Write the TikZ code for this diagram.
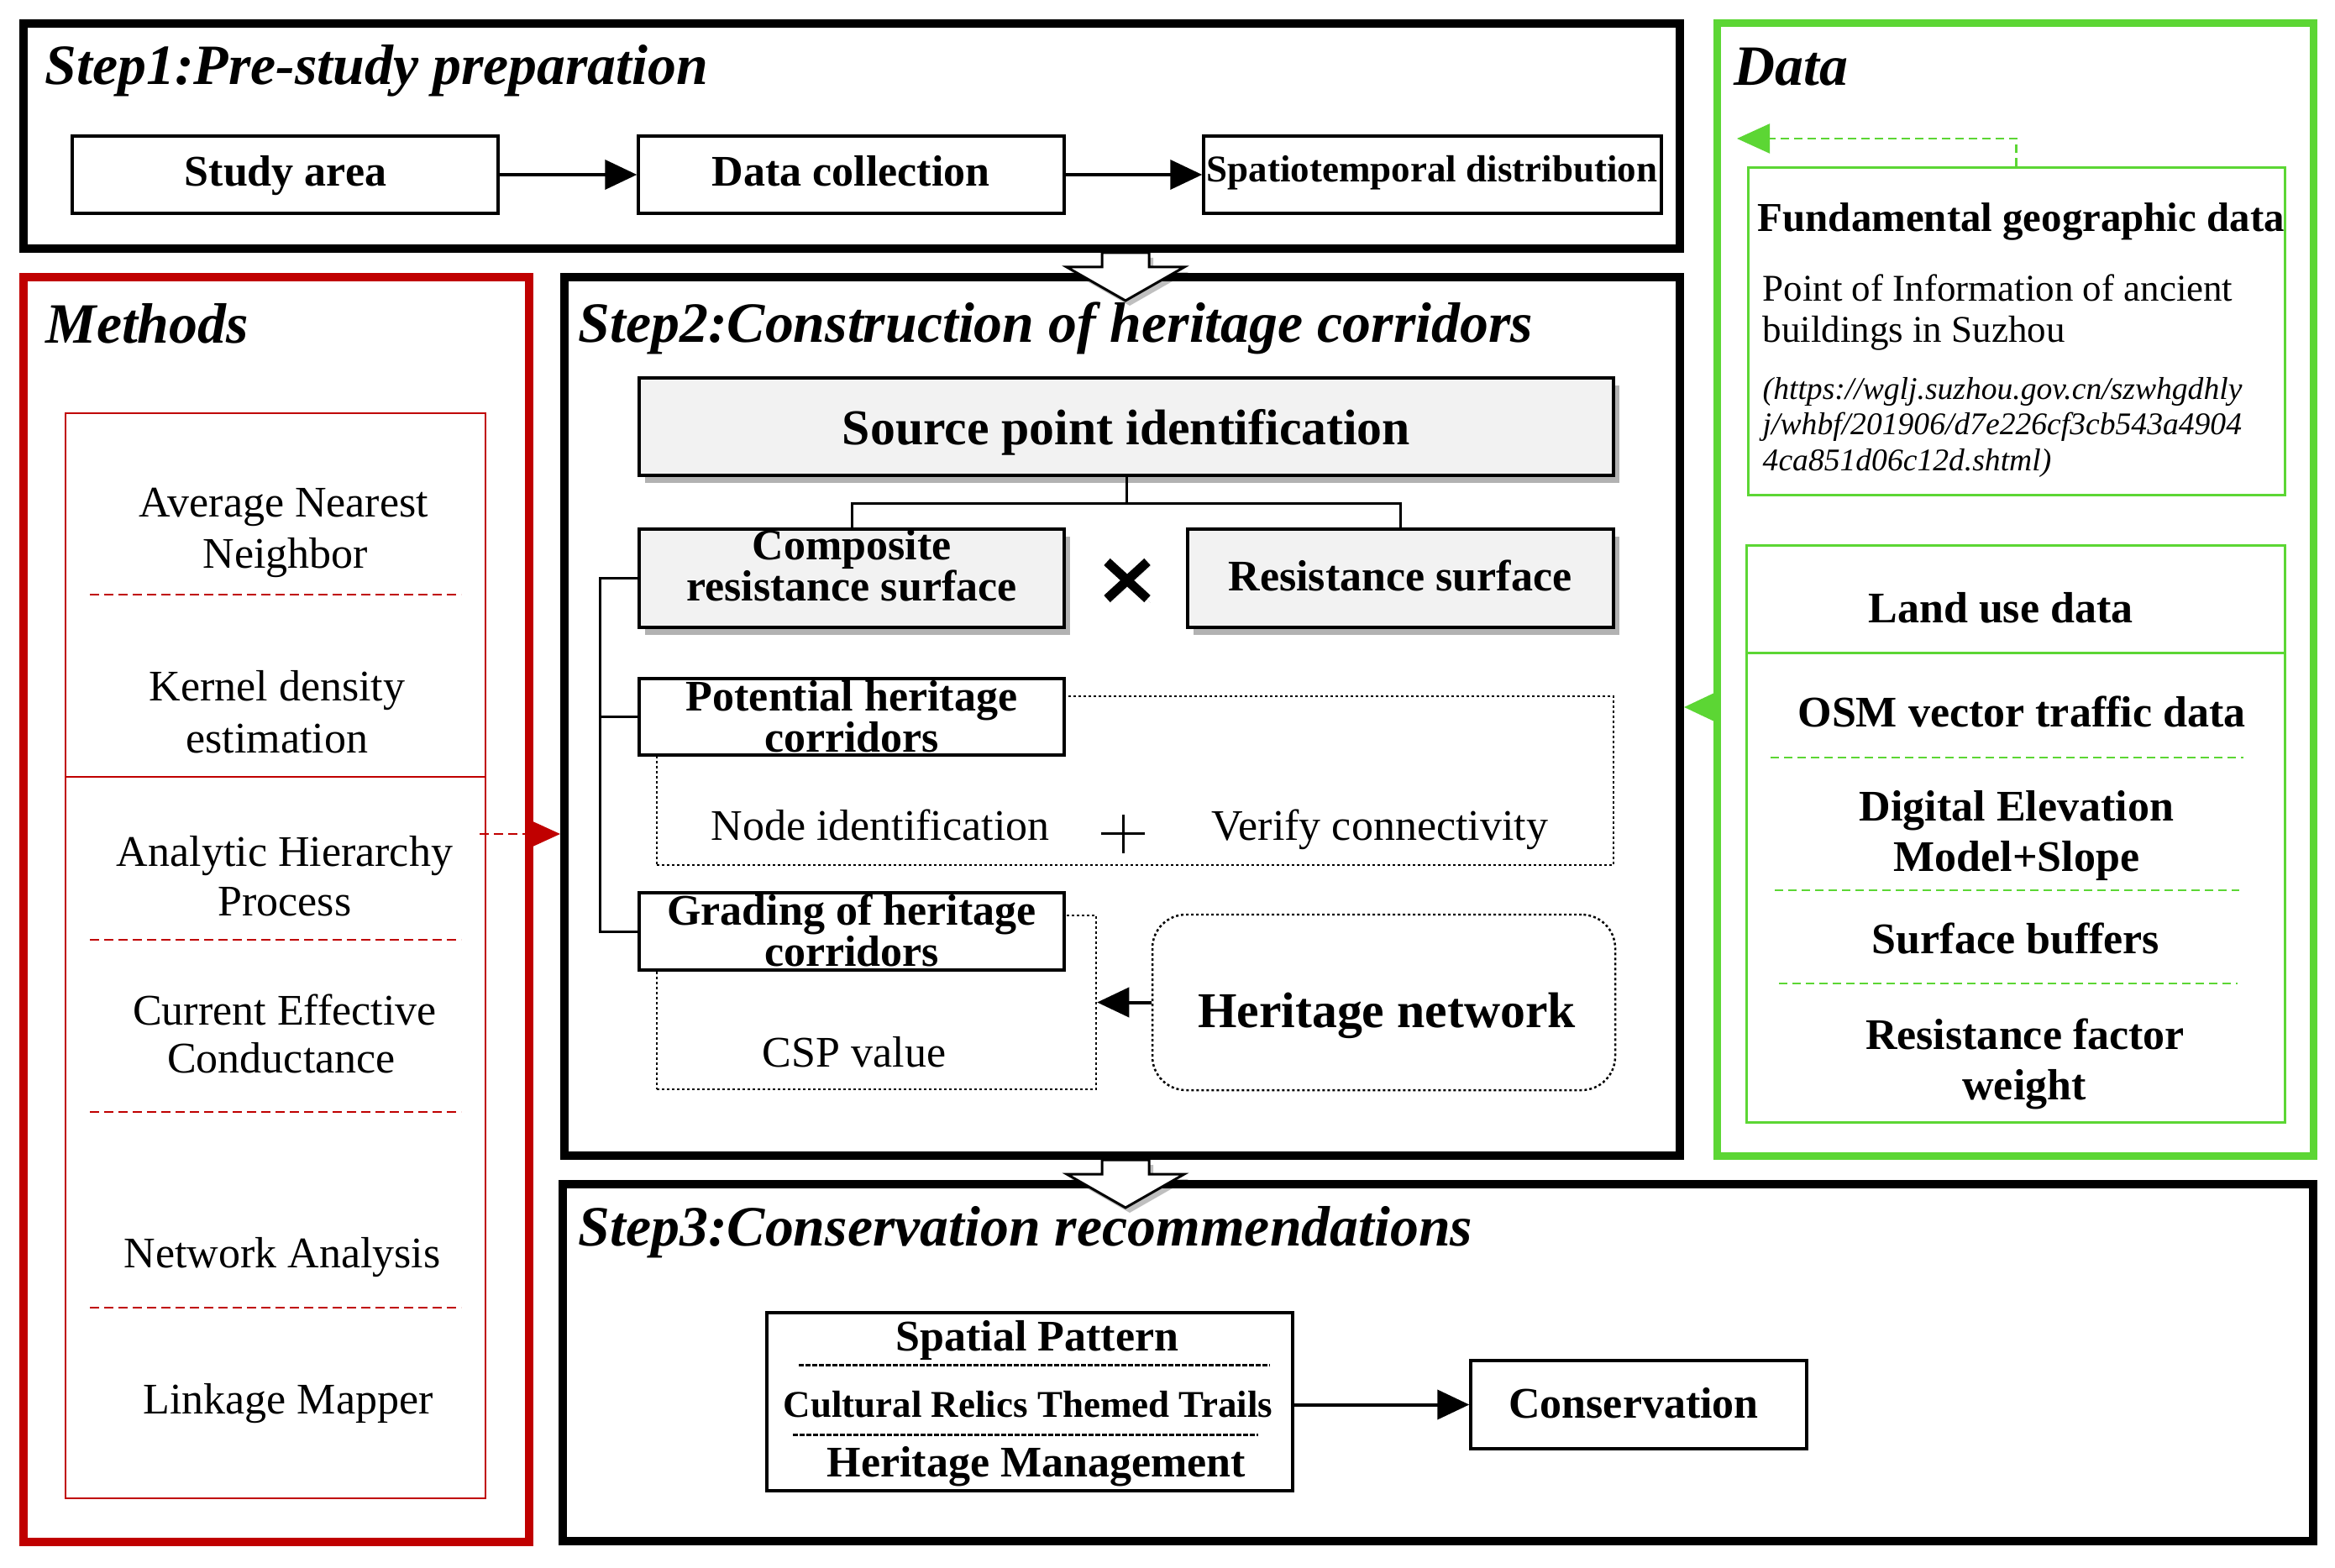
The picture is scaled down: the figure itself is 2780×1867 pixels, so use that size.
\documentclass[tikz,border=0pt]{standalone}
\usepackage{fontspec}
\setmainfont{Liberation Serif}
\usetikzlibrary{arrows.meta,shadows,fit}
\definecolor{mred}{RGB}{192,0,0}
\definecolor{mgreen}{RGB}{92,214,52}
\definecolor{boxgray}{RGB}{242,242,242}
\newcommand{\fsbody}{\fontsize{14.8}{17}\selectfont}
\newcommand{\fstight}{\fontsize{14.8}{14.1}\selectfont\bfseries\lineskiplimit=-20pt\relax}
\newcommand{\fstitle}{\fontsize{19.3}{22}\selectfont\bfseries\itshape}
\newcommand{\fsbig}{\fontsize{17}{20}\selectfont\bfseries}
\newcommand{\fsmid}{\fontsize{12.8}{15}\selectfont}
\newcommand{\fsurl}{\fontsize{10.7}{12}\selectfont\itshape}
\newcommand{\fsfund}{\fontsize{13.9}{16}\selectfont\bfseries}
\begin{document}
\begin{tikzpicture}[x=0.1mm,y=-0.1mm,
  frame/.style={draw, line width=1mm, inner sep=0pt},
  box/.style={draw, line width=0.35mm, inner sep=0pt, fill=white},
  gbox/.style={box, fill=boxgray, drop shadow={shadow xshift=0.7mm, shadow yshift=-0.9mm, fill=black, opacity=0.3}},
  dotbox/.style={draw, line width=0.25mm, dash pattern=on 0.3mm off 0.3mm, inner sep=0pt},
  tx/.style={anchor=base, inner sep=0pt, font=\fsbody},
  btx/.style={anchor=base, inner sep=0pt, font=\fsbody\bfseries},
  ttx/.style={anchor=base, inner sep=0pt, align=center, font=\fstight},
  mtitle/.style={anchor=base west, inner sep=0pt, font=\fstitle},
  arr/.style={line width=0.4mm, -{Triangle[length=3.8mm, width=3.5mm]}},
  hollow/.style={draw, line width=0.3mm, fill=white, drop shadow={shadow xshift=0.5mm, shadow yshift=-0.6mm, fill=black, opacity=0.25}},
  reddash/.style={draw=mred, line width=0.25mm, dash pattern=on 1.1mm off 0.6mm},
  greendash/.style={draw=mgreen, line width=0.22mm, dash pattern=on 1mm off 0.6mm},
  blackdash/.style={line width=0.3mm, dash pattern=on 0.55mm off 0.25mm},
  thinline/.style={line width=0.3mm}
]
\useasboundingbox (0,0) rectangle (2780,1867);
\fill[white] (0,0) rectangle (2780,1867);

% ---------- frames ----------
\node[frame, fit={(28,28)(2000,296)}] (s1) {};
\node[frame, draw=mgreen, line width=0.9mm, fit={(2044,28)(2754,1376)}] (dg) {};
\node[frame, draw=mred, fit={(28,330)(630,1836)}] (me) {};
\node[frame, fit={(672,330)(2000,1376)}] (s2) {};
\node[frame, fit={(670,1410)(2754,1835)}] (s3) {};

\node[mtitle] (t1) at (53,101) {Step1:Pre-study preparation};
\node[mtitle] (td) at (2064,102) {Data};
\node[mtitle] (tm) at (54,409) {Methods};
\node[mtitle] (t2) at (688,408) {Step2:Construction of heritage corridors};
\node[mtitle] (t3) at (688,1483) {Step3:Conservation recommendations};

% ---------- step 1 ----------
\node[box, fit={(86,162)(593,254)}] (study) {};
\node[btx] at (340,222) {Study area};
\node[box, fit={(760,162)(1267,254)}] (dcol) {};
\node[btx] at (1013,222) {Data collection};
\node[box, fit={(1433,162)(1978,254)}] (spat) {};
\node[anchor=base, inner sep=0pt, font=\fontsize{12.8}{15}\selectfont\bfseries] (spatt) at (1705,217) {Spatiotemporal distribution};
\draw[arr] (study.east) -- (dcol.west);
\draw[arr] (dcol.east) -- (spat.west);

% hollow arrows
\coordinate (ha1) at (1340,301);
\draw[hollow] (ha1) ++(-28,0) -- ++(0,17) -- ++(-42,0) -- ++(70,40) -- ++(70,-40) -- ++(-42,0) -- ++(0,-17) -- cycle;

% ---------- step 2 ----------
\node[gbox, fit={(761,450)(1921,566)}] (src) {};
\node[anchor=base, inner sep=0pt, font=\fsbig] at (1341,530) {Source point identification};
\node[gbox, fit={(761,630)(1267,747)}] (comp) {};
\node[ttx] at (1014,716) {Composite\\resistance surface};
\node[gbox, fit={(1414,630)(1921,747)}] (res) {};
\node[btx] at (1667,704) {Resistance surface};
\draw[thinline] (src.south) -- ++(0,32) -| (comp.north);
\draw[thinline] (src.south) -- ++(0,32) -| (res.north);
\draw[line width=1.1mm, drop shadow={shadow xshift=0.4mm, shadow yshift=-0.5mm, fill=black, opacity=0.3}] (1318,669) -- (1366,713) (1366,669) -- (1318,713);

\node[dotbox, fit={(782,829)(1921,1030)}] (potd) {};
\node[box, fit={(761,808)(1267,899)}] (pot) {};
\node[ttx] at (1014,896) {Potential heritage\\corridors};
\node[tx] (nid) at (1048,1001) {Node identification};
\node[tx] (vc) at (1643,1001) {Verify connectivity};
\draw[thinline] (1311,993) -- (1363,993) (1337,970) -- (1337,1016);

\node[dotbox, fit={(782,1090)(1305,1297)}] (gradd) {};
\node[box, fit={(761,1063)(1267,1155)}] (grad) {};
\node[ttx] at (1014,1151) {Grading of heritage\\corridors};
\node[tx] (csp) at (1017,1270) {CSP value};
\node[dotbox, rounded corners=4mm, fit={(1372,1089)(1923,1298)}] (hnet) {};
\node[anchor=base, inner sep=0pt, font=\fsbig] at (1651,1223) {Heritage network};
\draw[arr] (hnet.west) -- (gradd.east);

\draw[thinline] (comp.west) -- ++(-45,0) |- (grad.west);
\draw[thinline] (pot.west) -- ++(-45,0);

% second hollow arrow
\coordinate (ha2) at (1340,1381);
\draw[hollow] (ha2) ++(-28,0) -- ++(0,17) -- ++(-42,0) -- ++(70,40) -- ++(70,-40) -- ++(-42,0) -- ++(0,-17) -- cycle;

% ---------- methods ----------
\node[draw=mred, line width=0.25mm, inner sep=0pt, fit={(78,492)(578,1784)}] (mi) {};
\draw[mred, line width=0.25mm] (mi.west |- 0,925) -- (mi.east |- 0,925);
\foreach \yy in {708,1119,1324,1557} \draw[reddash] (107,\yy) -- (549,\yy);
\node[tx] at (338,616) {Average Nearest};
\node[tx] at (340,677) {Neighbor};
\node[tx] at (330,835) {Kernel density};
\node[tx] at (330,897) {estimation};
\node[tx] at (339,1032) {Analytic Hierarchy};
\node[tx] at (339,1090) {Process};
\node[tx] at (339,1220) {Current Effective};
\node[tx] at (335,1277) {Conductance};
\node[tx] at (336,1509) {Network Analysis};
\node[tx] at (343,1683) {Linkage Mapper};
\coordinate (ra) at (571,993);
\draw[reddash, -{Triangle[length=4mm, width=3.6mm, fill=mred]}, mred] (ra) -- (ra -| s2.west);

% ---------- data ----------
\node[draw=mgreen, line width=0.3mm, inner sep=0pt, fit={(2081,200)(2720,590)}] (fund) {};
\node[anchor=base west, inner sep=0pt, font=\fsfund] at (2092,276) {Fundamental geographic data};
\node[anchor=base west, inner sep=0pt, font=\fsmid] at (2098,359) {Point of Information of ancient};
\node[anchor=base west, inner sep=0pt, font=\fsmid] at (2098,408) {buildings in Suzhou};
\node[anchor=base west, inner sep=0pt, font=\fsurl] at (2098,476) {(https://wglj.suzhou.gov.cn/szwhgdhly};
\node[anchor=base west, inner sep=0pt, font=\fsurl] at (2098,518) {j/whbf/201906/d7e226cf3cb543a4904};
\node[anchor=base west, inner sep=0pt, font=\fsurl] at (2098,561) {4ca851d06c12d.shtml)};
\coordinate (ga) at (2068,165);
\draw[greendash, -{Triangle[length=3.9mm, width=3.5mm, fill=mgreen]}] (fund.north) |- (ga);

\node[draw=mgreen, line width=0.3mm, inner sep=0pt, fit={(2079,650)(2720,1336)}] (land) {};
\draw[mgreen, line width=0.3mm] (land.west |- 0,778) -- (land.east |- 0,778);
\node[btx] at (2382,742) {Land use data};
\node[btx] at (2407,866) {OSM vector traffic data};
\draw[greendash] (2108,902) -- (2671,902);
\node[btx] at (2401,978) {Digital Elevation};
\node[btx] at (2401,1038) {Model+Slope};
\draw[greendash] (2113,1060) -- (2666,1060);
\node[btx] at (2400,1135) {Surface buffers};
\draw[greendash] (2118,1171) -- (2664,1171);
\node[btx] at (2411,1249) {Resistance factor};
\node[btx] at (2410,1309) {weight};
\coordinate (g1) at (2044,842);
\draw[draw=mgreen, line width=0.3mm, -{Triangle[length=3.9mm, width=3.6mm, fill=mgreen]}] (g1) -- (g1 -| s2.east);

% ---------- step 3 ----------
\node[box, fit={(913,1563)(1539,1775)}] (sl) {};
\node[btx] at (1235,1608) {Spatial Pattern};
\draw[blackdash] (951,1625) -- (1512,1625);
\node[anchor=base, inner sep=0pt, font=\fontsize{12.8}{15}\selectfont\bfseries] at (1224,1687) {Cultural Relics Themed Trails};
\draw[blackdash] (944,1708) -- (1498,1708);
\node[btx] at (1234,1758) {Heritage Management};
\node[box, fit={(1751,1620)(2151,1725)}] (cons) {};
\node[btx] at (1945,1688) {Conservation};
\draw[arr] (cons.west -| sl.east) -- (cons.west);
\end{tikzpicture}
\end{document}
